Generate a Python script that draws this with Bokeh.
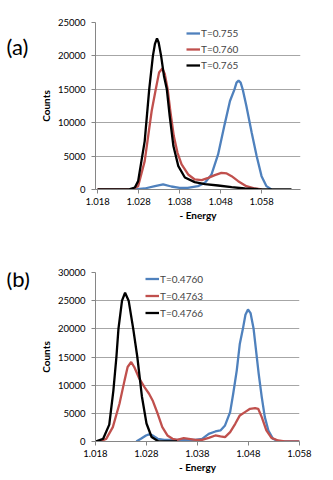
from bokeh.plotting import figure
from bokeh.models import FixedTicker, PrintfTickFormatter, Legend, LegendItem, Label, Range1d
from bokeh.layouts import column, row
from bokeh.embed import file_html
from bokeh.resources import INLINE

energy_ticks = [1.018, 1.028, 1.038, 1.048, 1.058]
a_count_ticks = [0, 5000, 10000, 15000, 20000, 25000]
b_count_ticks = [0, 5000, 10000, 15000, 20000, 25000, 30000]

# ---- panel (a)
a_labels = ["T=0.755", "T=0.760", "T=0.765"]
a_blue_x = [1.0271, 1.0295, 1.0320, 1.0340, 1.0360, 1.0380, 1.0400, 1.0425, 1.0442, 1.0458,
            1.0474, 1.0490, 1.0503, 1.0514, 1.0519, 1.0524, 1.0529, 1.0534, 1.0543, 1.0556,
            1.0568, 1.0580, 1.0592, 1.0604]
a_blue_y = [0, 150, 500, 750, 450, 250, 250, 500, 1000, 2250,
            5250, 9750, 13250, 15000, 16000, 16300, 16000, 15000, 12500, 8500,
            5000, 2000, 500, 0]
a_red_x = [1.0180, 1.0263, 1.0279, 1.0295, 1.0312, 1.0322, 1.0330, 1.0338, 1.0344, 1.0351,
           1.0358, 1.0366, 1.0375, 1.0385, 1.0401, 1.0417, 1.0434, 1.0450, 1.0466, 1.0482,
           1.0495, 1.0507, 1.0523, 1.0543, 1.0564, 1.0580]
a_red_y = [0, 0, 500, 4250, 11750, 15000, 17500, 18100, 17300, 15000,
           11500, 8000, 5500, 3750, 2250, 1500, 1400, 1750, 2150, 2500,
           2400, 2000, 1250, 500, 150, 0]
a_black_x = [1.0180, 1.0255, 1.0271, 1.0279, 1.0295, 1.0306, 1.0315, 1.0320, 1.0325, 1.0329,
             1.0335, 1.0342, 1.0349, 1.0356, 1.0365, 1.0377, 1.0393, 1.0417, 1.0442, 1.0474,
             1.0507, 1.0539, 1.0572, 1.0653]
a_black_y = [0, 0, 300, 1250, 7250, 15000, 20000, 21800, 22600, 22000,
             20000, 17000, 15000, 11000, 6500, 3500, 1800, 1100, 800, 600,
             350, 150, 50, 0]

# ---- panel (b)
b_labels = ["T=0.4760", "T=0.4763", "T=0.4766"]
b_blue_x = [1.0260, 1.0269, 1.0279, 1.0285, 1.0292, 1.0302, 1.0315, 1.0331, 1.0357, 1.0376,
            1.0389, 1.0402, 1.0415, 1.0425, 1.0434, 1.0444, 1.0450, 1.0457, 1.0463, 1.0469,
            1.0474, 1.0479, 1.0484, 1.0490, 1.0495, 1.0500, 1.0506, 1.0512, 1.0519, 1.0528,
            1.0538, 1.0580]
b_blue_y = [0, 475, 1070, 1250, 1070, 475, 300, 300, 300, 300,
            475, 1360, 1780, 1960, 2850, 5220, 8480, 12630, 17370, 20000,
            22500, 23430, 22800, 20000, 16000, 12000, 7890, 4330, 1960, 475,
            60, 0]
b_red_x = [1.0188, 1.0201, 1.0214, 1.0227, 1.0237, 1.0243, 1.0250, 1.0256, 1.0266, 1.0276,
           1.0285, 1.0292, 1.0302, 1.0311, 1.0321, 1.0331, 1.0340, 1.0353, 1.0363, 1.0376,
           1.0389, 1.0402, 1.0415, 1.0425, 1.0434, 1.0444, 1.0454, 1.0463, 1.0473, 1.0483,
           1.0493, 1.0499, 1.0506, 1.0515, 1.0525, 1.0538, 1.0551, 1.0580]
b_red_y = [0, 475, 2550, 6700, 10850, 13220, 14110, 13220, 11150, 9670,
           8480, 7290, 4920, 2550, 1070, 475, 300, 590, 475, 300,
           300, 650, 1070, 890, 770, 1660, 3140, 4630, 5220, 5810,
           5930, 5810, 4330, 1960, 650, 180, 0, 0]
b_black_x = [1.0180, 1.0195, 1.0207, 1.0215, 1.0221, 1.0225, 1.0232, 1.0238, 1.0245, 1.0254,
             1.0262, 1.0271, 1.0280, 1.0290, 1.0303, 1.0318, 1.0340]
b_black_y = [0, 475, 3000, 9000, 15000, 20000, 25000, 26400, 25000, 20000,
             15000, 8000, 3200, 800, 60, 0, 0]

colors = ["#4F81BD", "#C0504D", "#000000"]
FONT = "Lato"
GRID = "#A6A6A6"
TAG_W = 36


def make_panel(xr, yr, yticks, series, labels, fw, fh, borders, legend_loc, row_h):
    p = figure(frame_width=fw, frame_height=fh, output_backend="svg", toolbar_location=None,
               x_range=Range1d(*xr), y_range=Range1d(*yr),
               min_border_left=borders[0], min_border_right=borders[1],
               min_border_top=borders[2], min_border_bottom=borders[3])
    p.outline_line_color = None
    p.xgrid.grid_line_color = None
    p.ygrid.grid_line_color = GRID
    p.ygrid.grid_line_width = 1
    p.xaxis.ticker = FixedTicker(ticks=energy_ticks)
    p.yaxis.ticker = FixedTicker(ticks=yticks)
    p.xaxis.formatter = PrintfTickFormatter(format="%.3f")
    p.yaxis.formatter = PrintfTickFormatter(format="%d")
    for ax in (p.xaxis[0], p.yaxis[0]):
        ax.axis_line_color = "#868686"
        ax.major_tick_line_color = "#868686"
        ax.major_tick_in = 0
        ax.major_tick_out = 4
        ax.minor_tick_line_color = None
        ax.major_label_text_font = FONT
        ax.major_label_text_font_size = "9.5px"
        ax.major_label_text_color = "#000000"
        ax.axis_label_text_font = FONT
        ax.axis_label_text_font_size = "10px"
        ax.axis_label_text_font_style = "bold"
        ax.axis_label_text_color = "#000000"
    p.yaxis.major_label_standoff = 6
    p.yaxis.axis_label_standoff = 3
    p.xaxis.major_label_standoff = 4
    p.xaxis.axis_label_standoff = 1
    p.xaxis.axis_label = "- Energy"
    p.yaxis.axis_label = "Counts"
    items = []
    for (xs, ys), c, lab in zip(series, colors, labels):
        r = p.line(xs, ys, line_color=c, line_width=2.3)
        items.append(LegendItem(label=lab, renderers=[r]))
    leg = Legend(items=items, location=legend_loc, background_fill_alpha=0,
                 border_line_color=None, margin=0, padding=0, spacing=0,
                 label_height=row_h, glyph_height=row_h, glyph_width=14, label_standoff=1,
                 label_text_font=FONT, label_text_font_size="10px")
    p.add_layout(leg)
    return p


def make_tag(text, top, fh, bottom, y_from_bottom):
    t = figure(frame_width=TAG_W, frame_height=fh, output_backend="svg",
               toolbar_location=None, x_axis_location=None, y_axis_location=None,
               min_border_left=0, min_border_right=0,
               min_border_top=top, min_border_bottom=bottom,
               x_range=Range1d(0, 1), y_range=Range1d(0, 1))
    t.outline_line_color = None
    t.xgrid.grid_line_color = None
    t.ygrid.grid_line_color = None
    t.add_layout(Label(x=6, y=y_from_bottom, x_units="screen", y_units="screen",
                       text=text, text_font=FONT, text_font_size="22px",
                       text_color="#000000", text_baseline="middle", text_align="left"))
    return t


pa = make_panel((1.0175, 1.0675), (0, 25000), a_count_ticks,
                [(a_blue_x, a_blue_y), (a_red_x, a_red_y), (a_black_x, a_black_y)],
                a_labels, 205, 167, (89 - TAG_W, 23, 22, 39), (91, 116), 16)
pb = make_panel((1.018, 1.058), (0, 30000), b_count_ticks,
                [(b_blue_x, b_blue_y), (b_red_x, b_red_y), (b_black_x, b_black_y)],
                b_labels, 204, 169, (92 - TAG_W, 21, 44, 37), (50, 120), 17)

ta = make_tag("(a)", 22, 167, 39, 143)
tb = make_tag("(b)", 44, 169, 37, 163)

layout = column(row(ta, pa, spacing=0), row(tb, pb, spacing=0), spacing=0)
open("out.html", "w").write(file_html(layout, INLINE))
